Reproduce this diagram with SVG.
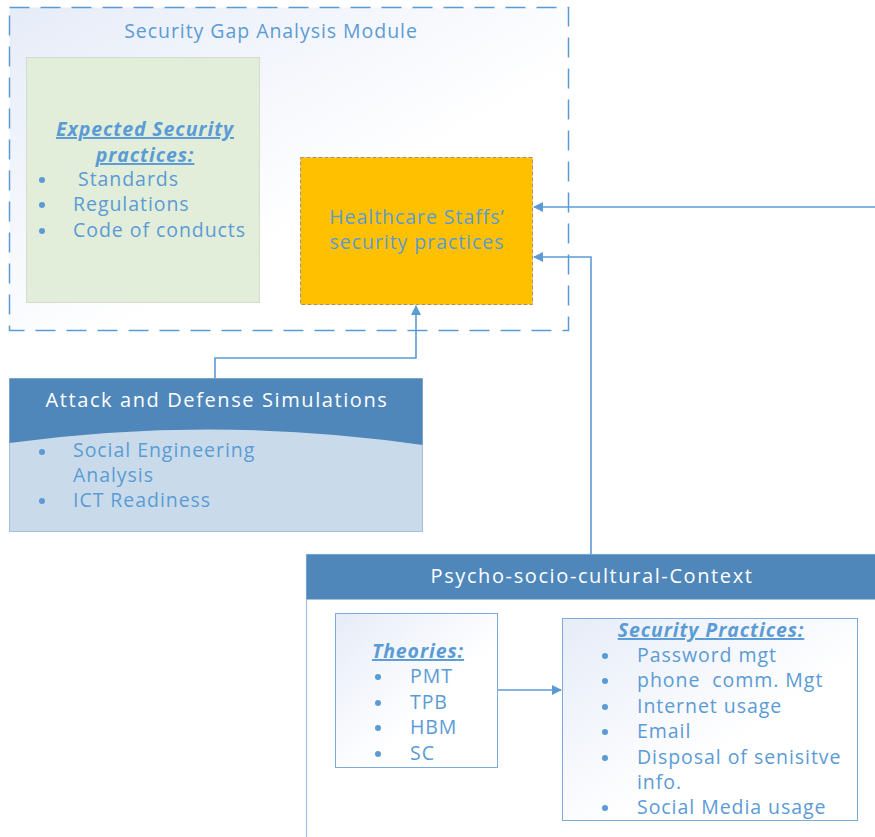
<svg xmlns="http://www.w3.org/2000/svg" width="875" height="837" viewBox="0 0 875 837">
  <defs>
    <linearGradient id="paleBlue" x1="0" y1="0" x2="1" y2="1">
      <stop offset="0" stop-color="#e6ecf8"/>
      <stop offset="0.6" stop-color="#ffffff"/>
    </linearGradient>
    <marker id="arrow" viewBox="0 0 10 10" refX="9" refY="5" markerWidth="10" markerHeight="10" markerUnits="userSpaceOnUse" orient="auto">
      <path d="M0,0 L10,5 L0,10 z" fill="#5b9bd5"/>
    </marker>
    <style>
      text { font-family: "Open Sans", "Liberation Sans", sans-serif; }
      .t { fill: #5b9bd5; font-size: 19.5px; letter-spacing: 0.95px; }
      .h { fill: #5b9bd5; font-size: 19.5px; font-weight: bold; font-style: italic; text-decoration: underline; letter-spacing: 0.9px; }
      .w { fill: #ffffff; font-size: 20px; letter-spacing: 1.6px; }
      .dot { fill: #5b9bd5; }
      .conn { fill: none; stroke: #5b9bd5; stroke-width: 1.6; }
    </style>
  </defs>

  <!-- outer module frame -->
  <g id="gap-module">
    <rect x="9.5" y="7.5" width="559" height="323" fill="url(#paleBlue)" stroke="#5b9bd5" stroke-width="1.5" stroke-dasharray="20,11"/>
    <text class="t" x="271" y="38" text-anchor="middle">Security Gap Analysis Module</text>
  </g>

  <!-- expected practices -->
  <g id="expected">
    <rect x="26.5" y="57.5" width="233" height="245" fill="#e2eed9" stroke="#d6dbd2" stroke-width="1"/>
    <text class="h" x="145" y="136" text-anchor="middle">Expected Security</text>
    <text class="h" x="145" y="162" text-anchor="middle">practices:</text>
    <circle class="dot" cx="42" cy="180" r="3"/>
    <circle class="dot" cx="42" cy="205" r="3"/>
    <circle class="dot" cx="42" cy="231" r="3"/>
    <text class="t" x="78" y="186">Standards</text>
    <text class="t" x="73" y="211">Regulations</text>
    <text class="t" x="73" y="237">Code of conducts</text>
  </g>

  <!-- staff practices -->
  <g id="staff">
    <rect x="300.5" y="157.5" width="232" height="147" fill="#ffc000" stroke="#b0906a" stroke-width="1" stroke-dasharray="4,2"/>
    <text class="t" x="417" y="224" text-anchor="middle">Healthcare Staffs’</text>
    <text class="t" x="417" y="249" text-anchor="middle">security practices</text>
  </g>

  <!-- simulations -->
  <g id="simulations">
    <rect x="9.5" y="378.5" width="413" height="153" fill="#c9dbea" stroke="#a7bfd6" stroke-width="1"/>
    <path d="M9.5,378.5 H422.5 V445 Q216,415 9.5,443 Z" fill="#4f87bb"/>
    <text class="w" x="217" y="407" text-anchor="middle">Attack and Defense Simulations</text>
    <circle class="dot" cx="42" cy="452" r="3"/>
    <circle class="dot" cx="42" cy="501" r="3"/>
    <text class="t" x="73" y="457">Social Engineering</text>
    <text class="t" x="73" y="482">Analysis</text>
    <text class="t" x="73" y="507">ICT Readiness</text>
  </g>

  <!-- psycho-socio-cultural context -->
  <g id="context">
    <rect x="306.5" y="554.5" width="575" height="290" fill="#ffffff" stroke="#9dc0e0" stroke-width="1.2"/>
    <rect x="306.5" y="554.5" width="575" height="45" fill="#4f87bb"/>
    <text class="w" x="592" y="583" text-anchor="middle">Psycho-socio-cultural-Context</text>
  </g>

  <g id="theories">
    <rect x="335.5" y="613.5" width="162" height="154" fill="url(#paleBlue)" stroke="#7fa9d6" stroke-width="1"/>
    <text class="h" x="418" y="658" text-anchor="middle">Theories:</text>
    <circle class="dot" cx="378" cy="677" r="3"/>
    <circle class="dot" cx="378" cy="703" r="3"/>
    <circle class="dot" cx="378" cy="728" r="3"/>
    <circle class="dot" cx="378" cy="754" r="3"/>
    <text class="t" x="410" y="683">PMT</text>
    <text class="t" x="410" y="709">TPB</text>
    <text class="t" x="410" y="734">HBM</text>
    <text class="t" x="410" y="760">SC</text>
  </g>

  <g id="practices">
    <rect x="562.5" y="618.5" width="295" height="202" fill="url(#paleBlue)" stroke="#7fa9d6" stroke-width="1"/>
    <text class="h" x="711" y="637" text-anchor="middle">Security Practices:</text>
    <circle class="dot" cx="605" cy="656" r="3"/>
    <circle class="dot" cx="605" cy="681" r="3"/>
    <circle class="dot" cx="605" cy="707" r="3"/>
    <circle class="dot" cx="605" cy="732" r="3"/>
    <circle class="dot" cx="605" cy="758" r="3"/>
    <circle class="dot" cx="605" cy="808" r="3"/>
    <text class="t" x="637" y="662">Password mgt</text>
    <text class="t" x="637" y="687" xml:space="preserve">phone  comm. Mgt</text>
    <text class="t" x="637" y="713">Internet usage</text>
    <text class="t" x="637" y="738">Email</text>
    <text class="t" x="637" y="764">Disposal of senisitve</text>
    <text class="t" x="637" y="789">info.</text>
    <text class="t" x="637" y="814">Social Media usage</text>
  </g>

  <!-- connectors -->
  <g id="connectors">
    <path class="conn" d="M875,207 H534" marker-end="url(#arrow)"/>
    <path class="conn" d="M591,554 V257 H534" marker-end="url(#arrow)"/>
    <path class="conn" d="M215,378 V358 H416 V306" marker-end="url(#arrow)"/>
    <path class="conn" d="M498,690 H561" marker-end="url(#arrow)"/>
  </g>
</svg>
